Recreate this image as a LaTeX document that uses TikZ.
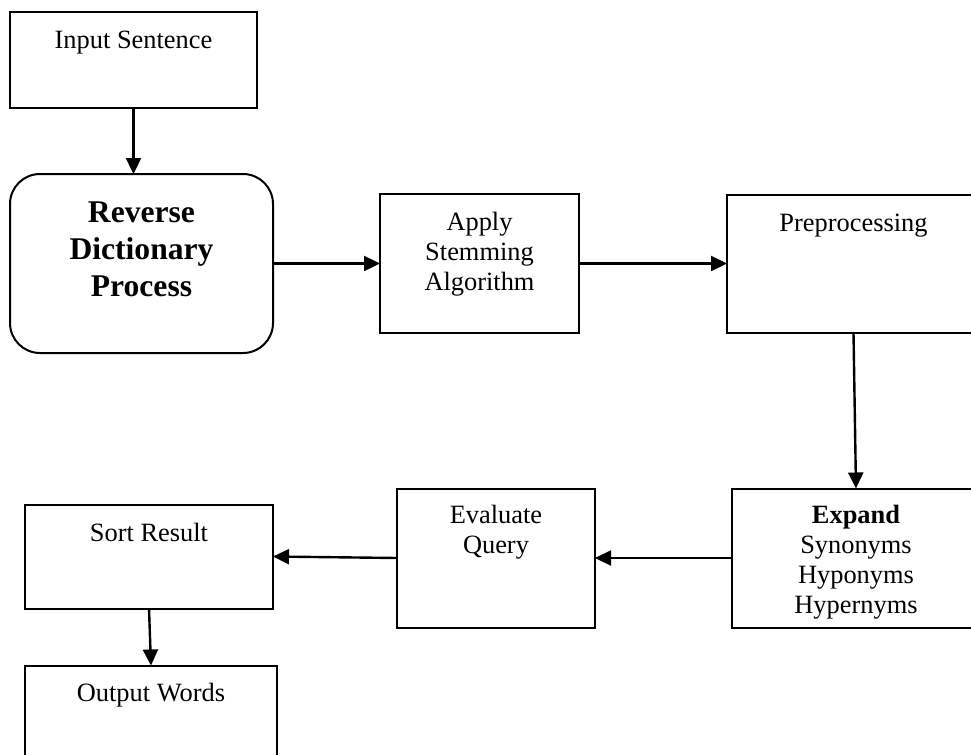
\documentclass[tikz,border=0pt]{standalone}
\usepackage{fontspec}
\setmainfont{Liberation Serif}
\usepackage{tikz}
\usetikzlibrary{
    arrows.meta,
    positioning
}
\newcommand{\boxlines}[1]{\begin{tabular}[t]{@{}c@{}}#1\end{tabular}}
\tikzset{
    block/.style={
        rectangle,
        draw=black,
        line width=1pt,
        inner sep=0pt,
        outer sep=0pt,
        text height=18pt,
        font=\fontsize{13.2pt}{15pt}\selectfont
    },
    roundblock/.style={
        rectangle,
        rounded corners=15pt,
        draw=black,
        line width=1pt,
        inner sep=0pt,
        outer sep=0pt,
        text height=24pt,
        font=\fontsize{15.8pt}{18.5pt}\selectfont\bfseries
    },
    arrow/.style={
        -{Triangle[length=8pt,width=7.5pt]},
        line width=1.2pt
    }
}
\begin{document}
\begin{tikzpicture}
\useasboundingbox (0,0) rectangle (485.5pt,-377.5pt);

\node[block, anchor=north west, minimum width=123.5pt, text depth=30pt] (input) at (5pt,-6pt) {Input Sentence};
\node[roundblock, below=33pt of input.south west, anchor=north west, minimum width=131.5pt, text depth=65.5pt] (reverse) {\boxlines{Reverse\\Dictionary\\Process}};
\node[block, right=53.5pt of reverse, minimum width=99.5pt, text depth=51.5pt] (stemming) {\boxlines{Apply\\Stemming\\Algorithm}};
\node[block, right=74pt of stemming, minimum width=126.5pt, text height=18.5pt, text depth=50.5pt] (preprocess) {Preprocessing};
\node[block, below=78pt of preprocess, xshift=1.25pt, minimum width=124pt, text height=17.5pt, text depth=52pt] (expand) {\boxlines{\textbf{Expand}\\Synonyms\\Hyponyms\\Hypernyms}};
\node[block, left=68.5pt of expand, minimum width=99pt, text height=17.5pt, text depth=52pt] (evaluate) {\boxlines{Evaluate\\Query}};
\node[block, left=62pt of evaluate, yshift=0.75pt, minimum width=124pt, text height=18.5pt, text depth=33.5pt] (sort) {Sort Result};
\node[block, below=28.5pt of sort, xshift=1pt, minimum width=126pt, text depth=34pt] (output) {Output Words};

\draw[arrow] (input.south) -- (input.south |- reverse.north);
\draw[arrow] (reverse) -- (stemming);
\draw[arrow] (stemming) -- (preprocess);
\draw[arrow] (preprocess.south) -- (expand.north);
\draw[arrow] (expand) -- (evaluate);
\draw[arrow] (evaluate.west) -- (sort.east);
\draw[arrow] (sort.south) -- (output.north);
\end{tikzpicture}
\end{document}
